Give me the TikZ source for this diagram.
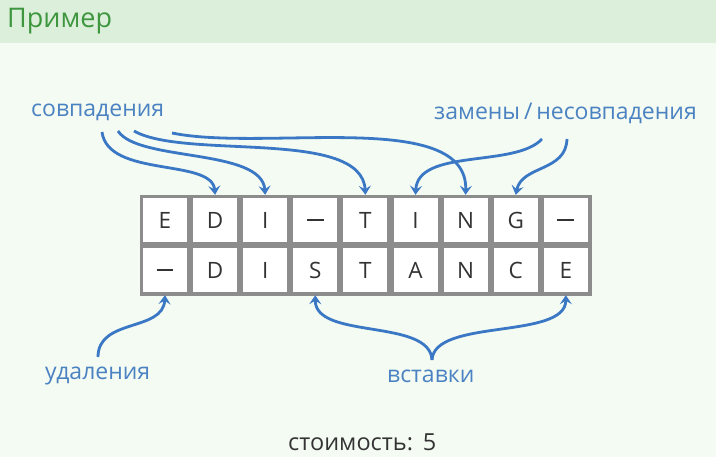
\documentclass[tikz,border=0pt]{standalone}
\usepackage{fontspec}
\setmainfont{Open Sans}
\usetikzlibrary{arrows.meta}
\definecolor{bgc}{HTML}{F4FBF2}
\definecolor{barc}{HTML}{DCEFDB}
\definecolor{titlec}{HTML}{3E963E}
\definecolor{labc}{HTML}{4A82C2}
\definecolor{arrc}{HTML}{3A77C4}
\definecolor{framec}{HTML}{8C8C8C}
\definecolor{letc}{HTML}{333333}
\newcommand{\gapdash}{\rule{17pt}{1.2pt}}
\tikzset{
  cell/.style={fill=white,minimum width=44pt,minimum height=44pt,inner sep=0pt,
    text=letc,font=\fontsize{22.5}{22}\selectfont},
  lab/.style={anchor=base west,inner sep=0pt,text=labc,font=\fontsize{23}{23}\selectfont},
  arr/.style={draw=arrc,line width=2.8pt,-{Stealth[length=9pt,width=12pt,inset=3.5pt]}}
}
\begin{document}
\begin{tikzpicture}[x=1pt,y=-1pt]
\useasboundingbox (0,0) rectangle (716,457);
\fill[bgc] (0,0) rectangle (716,457);
\fill[barc] (0,0) rectangle (716,43);
\node[anchor=base west,inner sep=0pt,text=titlec,font=\fontsize{27}{28}\selectfont] (title) at (7,28) {Пример};
% table frame
\fill[framec] (140,195) rectangle (592,296);
\foreach \t [count=\i] in {E,D,I,\gapdash,T,I,N,G,\gapdash}{
  \node[cell] (c\i) at ({165+50.1*(\i-1)},220) {\t};
}
\foreach \t [count=\i] in {\gapdash,D,I,S,T,A,N,C,E}{
  \node[cell] (d\i) at ({165+50.1*(\i-1)},270) {\t};
}
% labels
\node[lab] (match) at (31,117) {совпадения};
\node[lab] (mism) at (434,120) {замены\,/\,несовпадения};
\node[lab] (del) at (45,380) {удаления};
\node[lab] (ins) at (387,383) {вставки};
\node[anchor=base west,inner sep=0pt,text=letc,font=\fontsize{23.5}{24}\selectfont] (cost) at (288,450) {стоимость:\hspace{10pt}5};
% start points
\coordinate (m1) at (102,132);
\coordinate (m2) at (118,131);
\coordinate (m3) at (134,131);
\coordinate (m4) at (172,133);
\coordinate (s1) at (542,139);
\coordinate (s2) at (567,139);
\coordinate (dl) at (98,357);
\coordinate (in) at (432,360);
% end points on frame
\coordinate (t2) at ([yshift=3pt]c2.north);
\coordinate (t3) at ([yshift=3pt]c3.north);
\coordinate (t5) at ([yshift=3pt]c5.north);
\coordinate (t6) at ([yshift=3pt]c6.north);
\coordinate (t7) at ([yshift=3pt]c7.north);
\coordinate (t8) at ([yshift=3pt]c8.north);
\coordinate (b1) at ([yshift=-3pt]d1.south);
\coordinate (b4) at ([yshift=-3pt]d4.south);
\coordinate (b9) at ([yshift=-3pt]d9.south);
% arrows
\draw[arr] (m1) .. controls (108,178) and (212,158) .. (t2);
\draw[arr] (m2) .. controls (138,162) and (262,148) .. (t3);
\draw[arr] (m3) .. controls (185,160) and (362,128) .. (t5);
\draw[arr] (m4) .. controls (265,152) and (468,108) .. (t7);
\draw[arr] (s1) .. controls (515,168) and (418,148) .. (t6);
\draw[arr] (s2) .. controls (566,172) and (522,165) .. (t8);
\draw[arr] (dl) .. controls (98,318) and (163,332) .. (b1);
\draw[arr] (in) .. controls (430,318) and (315,340) .. (b4);
\draw[arr] (in) .. controls (434,318) and (566,340) .. (b9);
\end{tikzpicture}
\end{document}
